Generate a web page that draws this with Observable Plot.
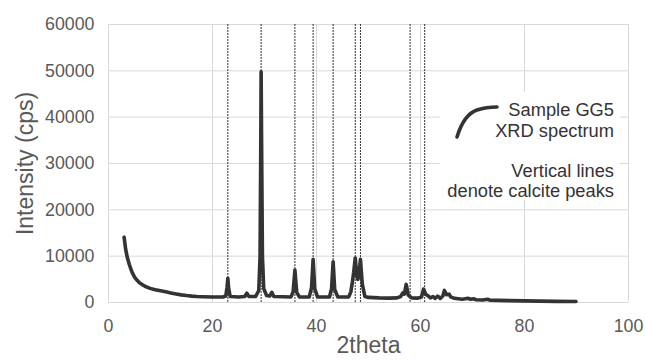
<!DOCTYPE html>
<html>
<head>
<meta charset="utf-8">
<script src="https://cdn.jsdelivr.net/npm/d3@7"></script>
<script src="https://cdn.jsdelivr.net/npm/@observablehq/plot@0.6"></script>
<style>
  html, body { margin: 0; padding: 0; background: #fff; }
  #chart svg { display: block; }
</style>
</head>
<body>
<div id="chart"></div>
<script>
// 2theta positions and intensities (cps)
const twoTheta = [
  3.0, 3.3, 3.6, 4.0, 4.5, 5.0, 5.5, 6.0, 7.0, 8.0, 9.0, 10.0, 11.0, 12.0, 13.0, 14.0, 15.0, 16.0, 17.0, 18.0, 20.0, 22.0,
  22.55, 22.8, 22.95, 23.1, 23.4, 25.0, 26.2, 26.6, 27.0, 28.3, 28.9, 29.15, 29.28, 29.35, 29.45, 29.6, 29.85, 30.4,
  31.0, 31.4, 31.8, 35.1, 35.5, 35.85, 36.2, 36.7, 38.6, 39.05, 39.35, 39.65, 40.2, 42.5, 42.9, 43.2, 43.5, 44.1,
  46.2, 46.6, 46.9, 47.15, 47.45, 47.8, 47.95, 48.15, 48.45, 48.8, 49.3, 50.0, 52.0, 54.0, 55.5, 56.2, 56.6, 56.9,
  57.25, 57.65, 58.3, 59.5, 60.2, 60.6, 61.0, 61.5, 61.9, 62.4, 62.8, 63.3, 63.8, 64.3, 64.6, 65.0, 65.5, 65.8,
  66.5, 68.0, 69.2, 69.6, 70.2, 70.7, 72.0, 72.9, 73.4, 75.0, 77.0, 80.0, 83.0, 86.0, 89.9
];
const intensity = [
  14100, 11500, 9800, 8200, 6600, 5500, 4800, 4200, 3500, 3050, 2750, 2550, 2300, 2050, 1850, 1650, 1500, 1380, 1300, 1250, 1200, 1200,
  1400, 3300, 5200, 3100, 1300, 1200, 1300, 2000, 1300, 1300, 2600, 10000, 33000, 49800, 33000, 10000, 3000, 1500,
  1400, 2200, 1300, 1200, 2300, 7000, 2200, 1200, 1200, 3200, 9300, 3000, 1200, 1200, 3000, 8800, 2800, 1200,
  1200, 2300, 4400, 6500, 9600, 5500, 5000, 5600, 9300, 4000, 1300, 1100, 1000, 950, 1000, 1300, 2100, 1800,
  3900, 1600, 1000, 950, 1200, 2900, 1800, 1400, 1000, 1300, 900, 1400, 900, 1400, 2600, 1700, 1800, 1200,
  900, 700, 900, 700, 800, 600, 550, 700, 500, 450, 400, 350, 300, 250, 200
];
const calcitePeaks = [22.95, 29.35, 35.85, 39.35, 43.2, 47.45, 48.45, 58.0, 60.8];
const xTicks = [0, 20, 40, 60, 80, 100];
const yTicks = [0, 10000, 20000, 30000, 40000, 50000, 60000];
const legendSpectrum = ["Sample GG5", "XRD spectrum"];
const legendCalcite = ["Vertical lines", "denote calcite peaks"];

const spectrum = twoTheta.map((x, i) => ({x, y: intensity[i]}));

const plot = Plot.plot({
  width: 646,
  height: 360,
  marginLeft: 108,
  marginRight: 18,
  marginTop: 24,
  marginBottom: 58,
  style: {fontFamily: "'Liberation Sans', Arial, sans-serif", background: "#fff", overflow: "visible"},
  x: {domain: [0, 100], ticks: xTicks, tickSize: 0, tickPadding: 17, label: "2theta", labelAnchor: "center", labelArrow: "none", labelOffset: 50},
  y: {domain: [0, 60000], ticks: yTicks, tickSize: 0, tickPadding: 14, tickFormat: d3.format("d"), label: "Intensity (cps)", labelAnchor: "center", labelArrow: "none", labelOffset: 92},
  marks: [
    Plot.ruleY(yTicks, {stroke: "#d9d9d9", strokeWidth: 1}),
    Plot.ruleX(xTicks, {stroke: "#d9d9d9", strokeWidth: 1}),
    Plot.ruleX(calcitePeaks, {stroke: "#333333", strokeWidth: 1, strokeDasharray: "2,1"}),
    Plot.line(spectrum, {x: "x", y: "y", stroke: "#333333", strokeWidth: 3.6, strokeLinejoin: "round", strokeLinecap: "round"})
  ]
});

// style axes text
d3.select(plot).selectAll("[aria-label='x-axis tick label'] text, [aria-label='y-axis tick label'] text")
  .attr("fill", "#595959").style("font-size", "17.8px");
d3.select(plot).selectAll("[aria-label='x-axis label'] text, [aria-label='y-axis label'] text")
  .attr("fill", "#595959").style("font-size", "23px");

// legend
const svg = d3.select(plot);
const lg = svg.append("g").attr("font-family", "'Liberation Sans', Arial, sans-serif");
lg.append("rect").attr("x", 440).attr("y", 92).attr("width", 180).attr("height", 108).attr("fill", "#fff");
lg.append("path").attr("d", "M457,137 C461,124 468,113 477,110 S490,107 497,107")
  .attr("fill", "none").attr("stroke", "#333").attr("stroke-width", 3.6).attr("stroke-linecap", "round");
const t1 = lg.append("text").attr("text-anchor", "end").attr("fill", "#333").style("font-size", "18.3px");
legendSpectrum.forEach((s, i) => t1.append("tspan").attr("x", 614).attr("y", 116 + i * 21).text(s));
const t2 = lg.append("text").attr("text-anchor", "end").attr("fill", "#333").style("font-size", "18.3px");
legendCalcite.forEach((s, i) => t2.append("tspan").attr("x", 614).attr("y", 177 + i * 20).text(s));

document.getElementById("chart").appendChild(plot);
</script>
</body>
</html>
